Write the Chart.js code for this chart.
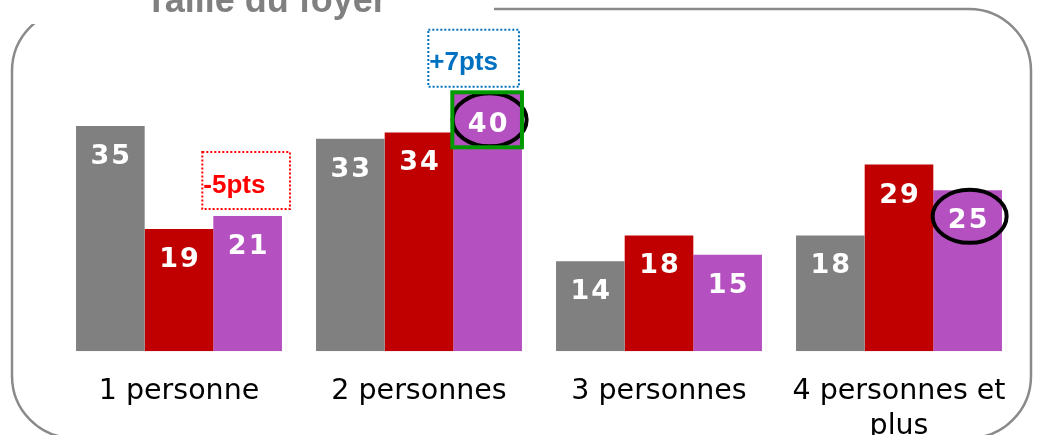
<!DOCTYPE html>
<html>
<head>
<meta charset="utf-8">
<script src="https://cdn.jsdelivr.net/npm/chart.js@4.4.1/dist/chart.umd.min.js"></script>
<style>
  html, body { margin: 0; padding: 0; background: #fff; }
  #wrap { width: 1038px; height: 435px; }
</style>
</head>
<body>
<div id="wrap"><canvas id="graph-foyer"></canvas></div>
<script>
// Taille du foyer : 3 vagues par catégorie
var categories = ['1 personne', '2 personnes', '3 personnes', ['4 personnes et', 'plus']];
var vague1 = [35, 33, 14, 18];
var vague2 = [19, 34, 18, 29];
var vague3 = [21, 40, 15, 25];

// écarts signalés au-dessus de la dernière vague
var ecartsCat = [0, 1];
var ecartsTexte = ['-5pts', '+7pts'];
var ecartsCouleur = ['#FF0000', '#0070C0'];
// valeurs entourées (dernière vague)
var entoures = [1, 3];

var cadrePlugin = {
  id: 'cadre',
  beforeDraw: function(chart) {
    var ctx = chart.ctx;
    ctx.save();
    ctx.strokeStyle = '#8a8a8a';
    ctx.lineWidth = 2.5;
    ctx.beginPath();
    ctx.roundRect(12, 9, 1019, 429, 62);
    ctx.stroke();
    // fond blanc derrière le titre
    ctx.fillStyle = '#fff';
    ctx.fillRect(0, 0, 494, 24);
    ctx.fillStyle = '#808080';
    ctx.font = 'bold 36px "Liberation Sans", Arial, sans-serif';
    ctx.textAlign = 'center';
    ctx.textBaseline = 'alphabetic';
    ctx.fillText('Taille du foyer', 266, 12);
    ctx.restore();
  }
};

var etiquettesPlugin = {
  id: 'etiquettes',
  afterDatasetsDraw: function(chart) {
    var ctx = chart.ctx;
    ctx.save();
    ctx.fillStyle = '#fff';
    ctx.font = 'bold 27px "DejaVu Sans", Verdana, sans-serif';
    ctx.letterSpacing = '2px';
    ctx.textAlign = 'center';
    ctx.textBaseline = 'middle';
    chart.data.datasets.forEach(function(ds, i) {
      chart.getDatasetMeta(i).data.forEach(function(bar, j) {
        ctx.fillText(ds.data[j], bar.x + 1, bar.y + 31);
      });
    });
    ctx.restore();

    var meta3 = chart.getDatasetMeta(2);

    // ellipses noires autour de certaines valeurs
    ctx.save();
    ctx.strokeStyle = '#000';
    ctx.lineWidth = 4;
    entoures.forEach(function(j) {
      var bar = meta3.data[j];
      ctx.beginPath();
      ctx.ellipse(bar.x + 2, bar.y + 26, 37, 26.5, 0, 0, Math.PI * 2);
      ctx.stroke();
    });
    ctx.restore();

    // carré vert sur le maximum
    var max = vague3.indexOf(Math.max.apply(null, vague3));
    var b = meta3.data[max];
    ctx.save();
    ctx.strokeStyle = '#009a00';
    ctx.lineWidth = 4;
    ctx.strokeRect(b.x - b.width / 2 - 1, b.y - 1.5, b.width + 1, 55);
    ctx.restore();

    // encadrés pointillés des écarts
    ecartsCat.forEach(function(j, k) {
      var bar = meta3.data[j];
      var g = bar.x - bar.width / 2;
      var d = bar.x + bar.width / 2;
      var x0, x1;
      if (k === 0) { x0 = g - 11; x1 = d + 8; }
      else { x0 = g - 25; x1 = d - 3; }
      var y1 = bar.y - 7;
      var y0 = y1 - 57;
      ctx.save();
      ctx.strokeStyle = ecartsCouleur[k];
      ctx.lineWidth = 2;
      ctx.setLineDash([2, 2]);
      ctx.strokeRect(x0, y0, x1 - x0, y1 - y0);
      ctx.setLineDash([]);
      ctx.fillStyle = ecartsCouleur[k];
      ctx.font = 'bold 26px "Liberation Sans", Arial, sans-serif';
      ctx.textAlign = 'left';
      ctx.textBaseline = 'middle';
      ctx.fillText(ecartsTexte[k], x0 + 1, (y0 + y1) / 2 + 5);
      ctx.restore();
    });
  }
};

var chartdata = {
  labels: categories,
  datasets: [
    { label: 'Vague 1', backgroundColor: '#808080', data: vague1 },
    { label: 'Vague 2', backgroundColor: '#C00000', data: vague2 },
    { label: 'Vague 3', backgroundColor: '#B550C1', data: vague3 }
  ]
};

var ctx = document.getElementById('graph-foyer');
var barGraph = new Chart(ctx, {
  type: 'bar',
  data: chartdata,
  plugins: [cadrePlugin, etiquettesPlugin],
  options: {
    responsive: true,
    maintainAspectRatio: false,
    animation: false,
    layout: { padding: { left: 59, right: 19, top: 61.6, bottom: 0 } },
    datasets: {
      bar: { barPercentage: 1, categoryPercentage: 0.858, borderWidth: 0 }
    },
    plugins: {
      legend: { display: false },
      tooltip: { enabled: false }
    },
    scales: {
      x: {
        grid: { display: false, drawTicks: false },
        border: { display: false },
        afterFit: function(scale) { scale.height = 83.7; },
        ticks: {
          color: '#000',
          font: { family: '"DejaVu Sans", Verdana, sans-serif', size: 28.5, lineHeight: 1.25 },
          padding: 22,
          maxRotation: 0,
          autoSkip: false
        }
      },
      y: {
        display: false,
        min: 0,
        max: 45
      }
    }
  }
});
</script>
</body>
</html>
